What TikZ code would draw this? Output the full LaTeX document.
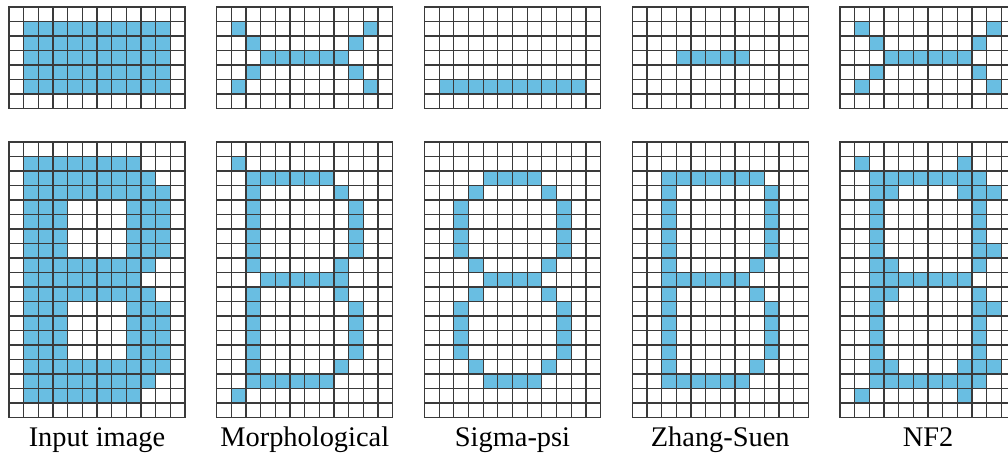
\documentclass[tikz,border=0pt]{standalone}
\usepackage{fontspec}
\setmainfont{Liberation Serif}
\usepackage{xcolor}
\definecolor{cellblue}{HTML}{69BEE2}
\definecolor{gridgray}{HTML}{3A3A3A}
\usepackage{tikz}
\usetikzlibrary{positioning}

\def\cellw{14.67}
\def\cellh{14.5}
% #1 left, #2 top, #3 rows, #4 filled blocks col/col/row/row
\newcommand{\pixgrid}[4]{%
  \foreach \ca/\cb/\ra/\rb in {#4}
    \fill[cellfill] ({#1+(\ca-1)*\cellw},{#2+(\ra-1)*\cellh}) rectangle ({#1+\cb*\cellw},{#2+\rb*\cellh});
  \foreach \i in {0,...,12}
    \draw[gridline] ({#1+\i*\cellw},#2) -- ++(0,{#3*\cellh});
  \foreach \j in {0,...,#3}
    \draw[gridline] (#1,{#2+\j*\cellh}) -- ++({12*\cellw},0);
}

\begin{document}
\begin{tikzpicture}[x=0.75pt,y=-0.75pt,
  cellfill/.style={fill=cellblue},
  gridline/.style={draw=gridgray,line width=0.95pt,line cap=rect},
  lbl/.style={anchor=base,inner sep=0pt,font=\fontsize{21.3}{25}\selectfont}]
  \useasboundingbox (0,0) rectangle (1008,455);
  \clip (0,0) rectangle (1008,455);

  % top row: bar
  \pixgrid{9}{7}{7}{2/11/2/6}
  \pixgrid{216.75}{7}{7}{2/2/2/2,11/11/2/2,3/3/3/3,10/10/3/3,4/9/4/4,3/3/5/5,10/10/5/5,2/2/6/6,11/11/6/6}
  \pixgrid{424.5}{7}{7}{2/11/6/6}
  \pixgrid{632.25}{7}{7}{4/8/4/4}
  \pixgrid{840}{7}{7}{2/2/2/2,11/11/2/2,3/3/3/3,10/10/3/3,4/9/4/4,3/3/5/5,10/10/5/5,2/2/6/6,11/11/6/6}

  % bottom row: letter B
  \pixgrid{9}{142}{19}{2/9/2/2,2/10/3/3,2/11/4/4,2/4/5/8,9/11/5/8,2/10/9/9,2/9/10/10,2/10/11/11,
    2/4/12/15,9/11/12/15,2/11/16/16,2/10/17/17,2/9/18/18}
  \pixgrid{216.75}{142}{19}{2/2/2/2,3/8/3/3,3/3/4/9,9/9/4/4,10/10/5/8,9/9/9/9,4/9/10/10,3/3/11/17,
    9/9/11/11,10/10/12/15,9/9/16/16,4/8/17/17,2/2/18/18}
  \pixgrid{424.5}{142}{19}{5/8/3/3,4/4/4/4,9/9/4/4,3/3/5/8,10/10/5/8,4/4/9/9,9/9/9/9,5/8/10/10,
    4/4/11/11,9/9/11/11,3/3/12/15,10/10/12/15,4/4/16/16,9/9/16/16,5/8/17/17}
  \pixgrid{632.25}{142}{19}{3/9/3/3,3/3/4/17,10/10/4/8,9/9/9/9,4/8/10/10,9/9/11/11,10/10/12/15,
    9/9/16/16,4/8/17/17}
  \pixgrid{840}{142}{19}{2/2/2/2,9/9/2/2,3/10/3/3,3/4/4/4,9/11/4/4,3/3/5/16,10/10/5/9,11/11/8/8,
    4/4/9/9,4/9/10/10,4/4/11/11,10/10/11/16,11/11/12/12,4/4/16/16,9/11/16/16,3/10/17/17,
    2/2/18/18,9/9/18/18}

  \node[lbl] (inp) at (97,446) {Input image};
  \node[lbl] (mor) at (304.75,446) {Morphological};
  \node[lbl] (sig) at (512.5,446) {Sigma-psi};
  \node[lbl] (zha) at (720.25,446) {Zhang-Suen};
  \node[lbl] (nf2) at (928,446) {NF2};
\end{tikzpicture}
\end{document}
